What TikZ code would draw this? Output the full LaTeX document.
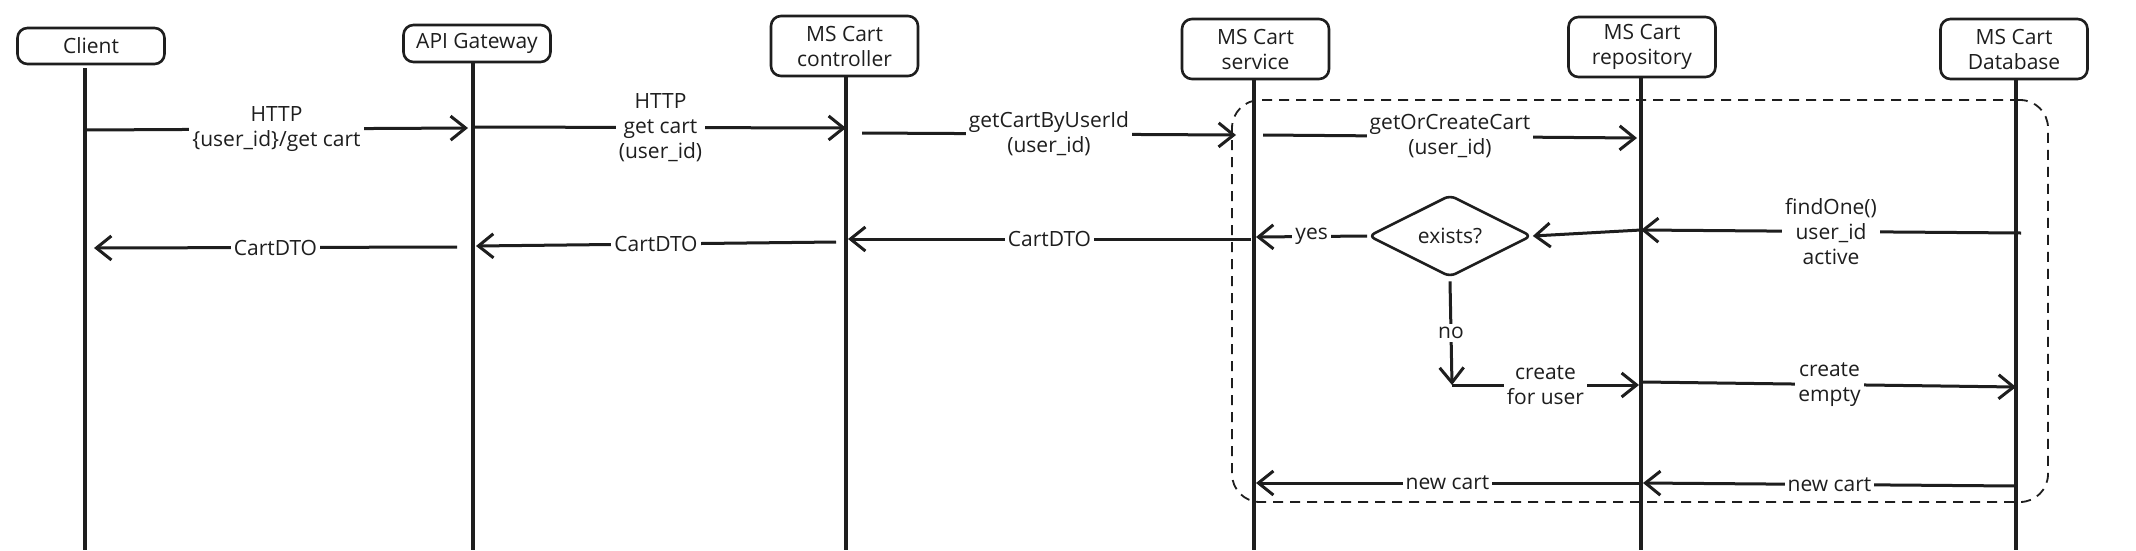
\documentclass[tikz,border=0pt]{standalone}
\usepackage{fontspec}
\setmainfont{Open Sans}
\usetikzlibrary{arrows.meta,shapes.geometric}
\definecolor{ink}{HTML}{1E1E1E}
\begin{document}
\begin{tikzpicture}[x=1pt,y=-1pt,
  font=\fontsize{21}{25}\selectfont,
  actor/.style={draw=ink, line width=2.6pt, rounded corners=10pt, align=center,
    minimum width=147pt, inner sep=2pt, text=ink},
  life/.style={draw=ink, line width=3.2pt},
  msg/.style={draw=ink, line width=3pt, -{Straight Barb[length=15pt,width=24pt]}},
  lbl/.style={fill=white, inner sep=3pt, align=center, text=ink},
  frame/.style={draw=ink, line width=1.8pt, dash pattern=on 10pt off 7pt, rounded corners=28pt},
  decision/.style={draw=ink, line width=2.6pt, diamond, aspect=2, minimum width=163pt,
    minimum height=82pt, inner sep=0pt, rounded corners=6pt, text=ink}]
\useasboundingbox (0,0) rectangle (2136,550);
\fill[white] (0,0) rectangle (2136,550);

% dashed loop frame
\node[frame, minimum width=816pt, minimum height=402pt] (loopbox) at (1640,301) {};

% actors
\node[actor, minimum height=36pt] (client) at (91,46) {Client};
\node[actor, minimum height=37pt] (gw) at (477,43.5) {API Gateway};
\node[actor, minimum height=60pt] (ctrl) at (844.5,46) {MS Cart\\controller};
\node[actor, minimum height=60pt] (svc) at (1255.5,49) {MS Cart\\service};
\node[actor, minimum height=60pt] (repo) at (1642,47) {MS Cart\\repository};
\node[actor, minimum height=60pt] (db) at (2014,49) {MS Cart\\Database};

% lifelines
\coordinate (clT) at (85,68);   \coordinate (clB) at (85,550);
\coordinate (gwT) at (473,62);  \coordinate (gwB) at (473,550);
\coordinate (ctT) at (846,76);  \coordinate (ctB) at (846,550);
\coordinate (svT) at (1254,79); \coordinate (svB) at (1254,550);
\coordinate (rpT) at (1641,77); \coordinate (rpB) at (1641,550);
\coordinate (dbT) at (2016,79); \coordinate (dbB) at (2016,550);
\draw[life] (clT) -- (clB);
\draw[life] (gwT) -- (gwB);
\draw[life] (ctT) -- (ctB);
\draw[life] (svT) -- (svB);
\draw[life] (rpT) -- (rpB);
\draw[life] (dbT) -- (dbB);

% request arrows
\coordinate (m1a) at (85,130);   \coordinate (m1b) at (468,128);
\coordinate (m2a) at (475,127);  \coordinate (m2b) at (846,128);
\coordinate (m3a) at (862,133);  \coordinate (m3b) at (1236,135);
\coordinate (m4a) at (1263,135); \coordinate (m4b) at (1637,138);
\draw[msg] (m1a) -- node[lbl] {HTTP\\\{user\_id\}/get cart} (m1b);
\draw[msg] (m2a) -- node[lbl] {HTTP\\get cart\\(user\_id)} (m2b);
\draw[msg] (m3a) -- node[lbl] {getCartByUserId\\(user\_id)} (m3b);
\draw[msg] (m4a) -- node[lbl] {getOrCreateCart\\(user\_id)} (m4b);

% decision
\node[decision] (ex) at (1450,236) {exists?};

% findOne
\coordinate (f1a) at (2021,233); \coordinate (f1b) at (1641,230);
\draw[msg] (f1a) -- node[lbl] {findOne()\\user\_id\\active} (f1b);
\draw[msg] (f1b) -- (ex.east);

% yes / returns
\coordinate (r0b) at (1256,237);
\draw[msg] (ex.west) -- node[lbl] {yes} (r0b);
\coordinate (r1a) at (1251,239); \coordinate (r1b) at (848,239);
\coordinate (r2a) at (836,242);  \coordinate (r2b) at (476,246);
\coordinate (r3a) at (457,247);  \coordinate (r3b) at (94,248);
\draw[msg] (r1a) -- node[lbl] {CartDTO} (r1b);
\draw[msg] (r2a) -- node[lbl] {CartDTO} (r2b);
\draw[msg] (r3a) -- node[lbl] {CartDTO} (r3b);

% no branch
\coordinate (nc) at (1452,385);
\coordinate (ncR) at (1639,385);
\draw[msg] ([yshift=-3pt]ex.south) -- node[lbl] {no} (nc);
\draw[msg] (nc) -- node[lbl] {create\\for user} (ncR);
\coordinate (ceA) at (1643,382); \coordinate (ceB) at (2016,387);
\draw[msg] (ceA) -- node[lbl] {create\\empty} (ceB);

% new cart
\coordinate (n1a) at (2016,486); \coordinate (n1b) at (1643,483);
\coordinate (n2a) at (1639,483); \coordinate (n2b) at (1256,483);
\draw[msg] (n1a) -- node[lbl] {new cart} (n1b);
\draw[msg] (n2a) -- node[lbl] {new cart} (n2b);
\end{tikzpicture}
\end{document}
